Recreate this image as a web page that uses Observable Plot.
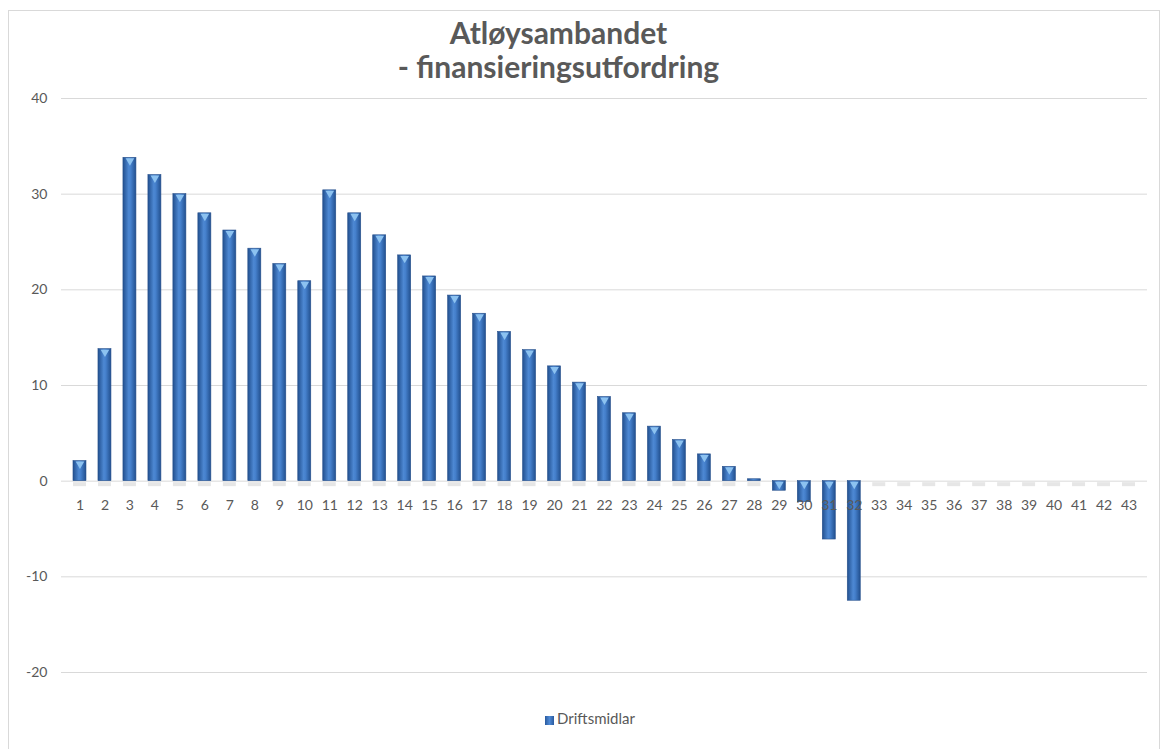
<!DOCTYPE html>
<html>
<head>
<meta charset="utf-8">
<script src="https://cdn.jsdelivr.net/npm/d3@7"></script>
<script src="https://cdn.jsdelivr.net/npm/@observablehq/plot@0.6"></script>
<style>
  html, body { margin: 0; padding: 0; background: #fff; }
  body { width: 1167px; height: 749px; overflow: hidden; position: relative; font-family: Lato, "Open Sans", sans-serif; }
  #frame { position: absolute; left: 8px; top: 10px; width: 1152px; height: 750px; border: 1px solid #d9d9d9; box-sizing: border-box; }
  #title { position: absolute; left: -50px; top: 15px; width: 1217px; text-align: center; color: #595959; font-weight: bold; font-size: 30px; line-height: 34px; }
  #chart { position: absolute; left: 0; top: 88px; }
  #legend { position: absolute; left: 0; top: 709px; width: 1180px; text-align: center; color: #595959; font-size: 15px; }
  #legend .sw { display: inline-block; width: 9px; height: 9px; background: linear-gradient(90deg, #2a5a9e, #4f8ad6, #2a5a9e); margin-right: 3px; vertical-align: -1px; }
</style>
</head>
<body>
<div id="frame"></div>
<div id="title">Atløysambandet<br>- finansieringsutfordring</div>
<div id="chart"></div>
<div id="legend"><span class="sw"></span>Driftsmidlar</div>
<script>
const categories = Array.from({length: 43}, (_, i) => String(i + 1));
const driftsmidlar = [2.1, 13.8, 33.8, 32.0, 30.0, 28.0, 26.2, 24.3, 22.7, 20.9,
  30.4, 28.0, 25.7, 23.6, 21.4, 19.4, 17.5, 15.6, 13.7, 12.0,
  10.3, 8.8, 7.1, 5.7, 4.3, 2.8, 1.5, 0.2, -1.0, -2.2,
  -6.1, -12.5, 0, 0, 0, 0, 0, 0, 0, 0, 0, 0, 0];
const yTicks = [-20, -10, 0, 10, 20, 30, 40];

const data = categories.map((c, i) => ({cat: c, v: driftsmidlar[i]}));
const nonzero = data.filter(d => d.v !== 0);

const plot = Plot.plot({
  width: 1167,
  height: 600,
  marginLeft: 61,
  marginRight: 20,
  marginTop: 10,
  marginBottom: 16,
  style: {fontFamily: "Lato, 'Open Sans', sans-serif", fontSize: "14px", color: "#595959", background: "transparent"},
  x: {domain: categories, padding: 0.48, axis: null},
  y: {domain: [-20, 40], ticks: yTicks, label: null},
  marks: [
    Plot.gridY(yTicks, {stroke: "#d9d9d9", strokeOpacity: 1, strokeWidth: 1}),
    Plot.axisY(yTicks, {tickSize: 0, tickPadding: 14, label: null, fill: "#595959", fontSize: 14, tickFormat: d => String(d)}),
    Plot.tickY(data, {x: "cat", y: 0, stroke: "#e6e6e6", strokeWidth: 4, dy: 3}),
    Plot.barY(nonzero, {x: "cat", y: "v", fill: "url(#barGrad)", stroke: "#27508c", strokeWidth: 0.6}),
    Plot.dot(nonzero.filter(d => Math.abs(d.v) > 0.5), {x: "cat", y: d => Math.max(d.v, 0), symbol: "triangle", r: 3.2, rotate: 180, fill: "#8cc2f0", stroke: "none", dy: 3}),
    Plot.text(data, {x: "cat", y: 0, text: "cat", dy: 24, fill: "#595959", fontSize: 14})
  ]
});

const defs = d3.create("svg:defs");
const g = defs.append("linearGradient").attr("id", "barGrad").attr("x1", "0").attr("x2", "1").attr("y1", "0").attr("y2", "0");
g.append("stop").attr("offset", "0%").attr("stop-color", "#22508f");
g.append("stop").attr("offset", "45%").attr("stop-color", "#4d88d3");
g.append("stop").attr("offset", "60%").attr("stop-color", "#4580cc");
g.append("stop").attr("offset", "100%").attr("stop-color", "#22508f");
plot.insertBefore(defs.node(), plot.firstChild);

document.getElementById("chart").appendChild(plot);
</script>
</body>
</html>
